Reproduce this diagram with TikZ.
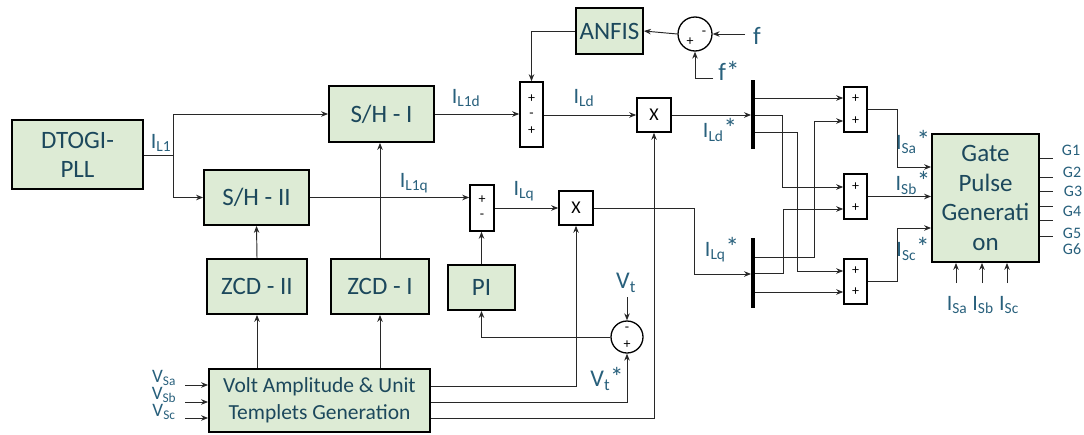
\documentclass[tikz,border=0pt]{standalone}
\usepackage{fontspec}
\setmainfont{Carlito}
\usetikzlibrary{arrows.meta,calc}
\definecolor{boxfill}{RGB}{221,235,213}
\definecolor{boxtxt}{RGB}{28,72,92}
\definecolor{lblcol}{RGB}{40,96,124}
\definecolor{wirecol}{RGB}{40,40,40}
\newcommand{\bigstar}{{\fontsize{27}{27}\selectfont *}}
\begin{document}
\begin{tikzpicture}[x=1pt,y=-1pt,
  gbox/.style={draw=black,line width=1.8pt,fill=boxfill,text=boxtxt,inner sep=0pt,align=center,font=\fontsize{25}{29}\selectfont},
  wbox/.style={draw=black,line width=1.6pt,fill=white,inner sep=0pt},
  sumc/.style={circle,draw=black,line width=1.3pt,fill=white,inner sep=0pt},
  conn/.style={draw=wirecol,line width=0.95pt},
  arr/.style={conn,-{Stealth[length=7pt,width=5.5pt]}},
  lab/.style={text=lblcol,font=\fontsize{22}{22}\selectfont,inner sep=0pt},
  vlab/.style={text=lblcol,font=\fontsize{19}{19}\selectfont,inner sep=0pt,text height=11pt,text depth=2pt},
  glab/.style={text=lblcol,font=\fontsize{16}{16}\selectfont,inner sep=0pt},
  sgn/.style={font=\fontsize{14}{14}\selectfont,inner sep=0pt},
  barnode/.style={fill=black,inner sep=0pt,minimum width=3.5pt}
]
\useasboundingbox (0,0) rectangle (1084,434);
\fill[white] (0,0) rectangle (1084,434);

% green blocks
\node[gbox,minimum width=131pt,minimum height=69pt] (dtogi) at (77.5,154.5) {DTOGI-\\PLL};
\node[gbox,minimum width=105pt,minimum height=56pt] (sh1) at (381.5,114) {S/H - I};
\node[gbox,minimum width=105pt,minimum height=55pt] (sh2) at (256.5,197.5) {S/H - II};
\node[gbox,minimum width=100pt,minimum height=55pt] (zcd2) at (257,286.5) {ZCD - II};
\node[gbox,minimum width=98pt,minimum height=55pt] (zcd1) at (380,286.5) {ZCD - I};
\node[gbox,minimum width=221pt,minimum height=63pt,font=\fontsize{21.5}{27}\selectfont] (volt) at (319.5,400.5) {Volt Amplitude \& Unit\\Templets Generation};
\node[gbox,minimum width=67pt,minimum height=45pt] (pi) at (481.5,287.5) {PI};
\node[gbox,minimum width=67pt,minimum height=46pt] (anfis) at (609.5,31) {ANFIS};
\node[gbox,minimum width=107pt,minimum height=128pt,font=\fontsize{25}{29.5}\selectfont] (gate) at (985.5,198) {Gate\\Pulse\\Generati\\on};

% summing / multiplying blocks
\node[wbox,minimum width=23pt,minimum height=65pt] (sum1) at (531.5,114.5) {};
\node[sgn] (s1a) at (531.5,99) {+};
\node[sgn] (s1b) at (531.5,115) {-};
\node[sgn] (s1c) at (531.5,131) {+};
\node[wbox,minimum width=24pt,minimum height=46pt] (sum2) at (482,208) {};
\node[sgn] (s2a) at (482,200) {+};
\node[sgn] (s2b) at (482,216) {-};
\node[wbox,minimum width=34pt,minimum height=34pt,font=\fontsize{18}{18}\selectfont] (x1) at (654,115) {X};
\node[wbox,minimum width=34pt,minimum height=34pt,font=\fontsize{18}{18}\selectfont] (x2) at (576,208) {X};
\node[wbox,minimum width=23pt,minimum height=45pt] (sA) at (855.5,109.5) {};
\node[sgn] (sAa) at (855.5,99) {+};
\node[sgn] (sAb) at (855.5,121) {+};
\node[wbox,minimum width=23pt,minimum height=45pt] (sB) at (855.5,196.5) {};
\node[sgn] (sBa) at (855.5,187) {+};
\node[sgn] (sBb) at (855.5,208) {+};
\node[wbox,minimum width=23pt,minimum height=45pt] (sC) at (855.5,281.5) {};
\node[sgn] (sCa) at (855.5,271) {+};
\node[sgn] (sCb) at (855.5,292) {+};
\node[sumc,minimum size=32pt] (vt) at (627,337) {};
\node[sgn] (vta) at (627,329) {-};
\node[sgn] (vtb) at (627,345) {+};
\node[sumc,minimum size=34pt] (fc) at (695,34) {};
\node[sgn] (fca) at (690,42) {+};
\node[sgn] (fcb) at (704,33) {-};

% bars
\node[barnode,minimum height=69pt] (bar1) at (753,114.5) {};
\node[barnode,minimum height=70pt] (bar2) at (753,273) {};

% free ends
\coordinate (j1) at (173,155);
\coordinate (fin) at (745,34);
\coordinate (fsin) at (713,78);
\coordinate (vtin) at (627,297);
\coordinate (va) at (185,385);
\coordinate (vb) at (185,402);
\coordinate (vc) at (185,418);
\coordinate (ia) at (956,283);
\coordinate (ib) at (982,283);
\coordinate (ic) at (1007,283);

% connectors
\draw[conn] (dtogi.east |- j1) -- (j1);
\draw[arr] (j1) |- (sh1.west);
\draw[arr] (j1) |- (sh2.west);
\draw[arr] (sh1.east) -- (sh1.east -| sum1.west);
\draw[arr] (sh2.east) -- (sh2.east -| sum2.west);
\draw[arr] (zcd2.north) -- (sh2.south);
\draw[arr] (zcd1.north) -- (zcd1.north |- sh1.south);
\draw[arr] (zcd2.south |- volt.north) -- (zcd2.south);
\draw[arr] (zcd1.south |- volt.north) -- (zcd1.south);
\draw[arr] (pi.north) -- (pi.north |- sum2.south);
\draw[arr] (sum2.east) -- (x2.west);
\draw[arr] (volt.east |- 0,386) -| (x2.south);
\draw[arr] (volt.east |- 0,402) -| (vt.south);
\draw[arr] (volt.east |- 0,418) -| (x1.south);
\draw[arr] (vt.west) -| (pi.south);
\draw[arr] (vtin) -- (vt.north);
\draw[arr] (va) -- (va -| volt.west);
\draw[arr] (vb) -- (vb -| volt.west);
\draw[arr] (vc) -- (vc -| volt.west);
\draw[arr] (sum1.east |- x1.west) -- (x1.west);
\draw[arr] (anfis.west) -| (sum1.north);
\draw[arr] (fc.west) -- (anfis.east);
\draw[arr] (fin) -- (fc.east);
\draw[arr] (fsin) -| (fc.south);
\draw[arr] (x1.east) -- (x1.east -| bar1.west);
\draw[arr] (x2.east) -| (694,274) -- (bar2.west |- 0,274);
% bar outputs
\draw[arr] (bar1.east |- 0,98) -- (sA.west |- 0,98);
\draw[arr] (bar1.east |- 0,115) -| (782,187) -- (sB.west |- 0,187);
\draw[arr] (bar1.east |- 0,132) -| (797,271) -- (sC.west |- 0,271);
\draw[arr] (bar2.east |- 0,257) -| (814,121) -- (sA.west |- 0,121);
\draw[arr] (bar2.east |- 0,273) -| (783,209) -- (sB.west |- 0,209);
\draw[arr] (bar2.east |- 0,292) -- (sC.west |- 0,292);
% sums to gate
\draw[arr] (sA.east) -| (897,167) -- (gate.west |- 0,167);
\draw[arr] (sB.east) -- (gate.west |- sB.east);
\draw[arr] (sC.east) -| (897,228) -- (gate.west |- 0,228);
% gate outputs
\foreach \yy in {158,177,191,206,220,236}
  \draw[conn] (gate.east |- 0,\yy) -- ++(13,0);
\draw[arr] (ia) -- (ia |- gate.south);
\draw[arr] (ib) -- (ib |- gate.south);
\draw[arr] (ic) -- (ic |- gate.south);

% labels
\node[lab] (lIL1) at (161,143) {I\textsubscript{L1}};
\node[lab] (lIL1d) at (466,98) {I\textsubscript{L1d}};
\node[lab] (lIL1q) at (414,183) {I\textsubscript{L1q}};
\node[lab] (lILd) at (584,98) {I\textsubscript{Ld}};
\node[lab] (lILq) at (524,191) {I\textsubscript{Lq}};
\node[lab] (lILds) at (720,130) {I\textsubscript{Ld}\bigstar};
\node[lab] (lILqs) at (722,250) {I\textsubscript{Lq}\bigstar};
\node[lab] (lISas) at (913,142) {I\textsubscript{Sa}\bigstar};
\node[lab] (lISbs) at (913,183) {I\textsubscript{Sb}\bigstar};
\node[lab] (lIScs) at (913,249) {I\textsubscript{Sc}\bigstar};
\node[lab,font=\fontsize{24}{24}\selectfont] (lVt) at (626,283) {V\textsubscript{t}};
\node[lab,font=\fontsize{24}{24}\selectfont] (lVts) at (607,379) {V\textsubscript{t}\bigstar};
\node[lab,font=\fontsize{25}{25}\selectfont] (lf) at (757,36) {f};
\node[lab,font=\fontsize{25}{25}\selectfont] (lfs) at (729,71) {f\bigstar};
\node[vlab] (lVa) at (164,378) {V\textsubscript{Sa}};
\node[vlab] (lVb) at (164,395) {V\textsubscript{Sb}};
\node[vlab] (lVc) at (164,412) {V\textsubscript{Sc}};
\node[lab] (lIa) at (957,305) {I\textsubscript{Sa}};
\node[lab] (lIb) at (983,305) {I\textsubscript{Sb}};
\node[lab] (lIc) at (1009,305) {I\textsubscript{Sc}};
\node[glab] (g1) at (1071,150) {G1};
\node[glab] (g2) at (1072,172) {G2};
\node[glab] (g3) at (1073,191) {G3};
\node[glab] (g4) at (1072,211) {G4};
\node[glab] (g5) at (1072,233) {G5};
\node[glab] (g6) at (1072,249) {G6};
\end{tikzpicture}
\end{document}
